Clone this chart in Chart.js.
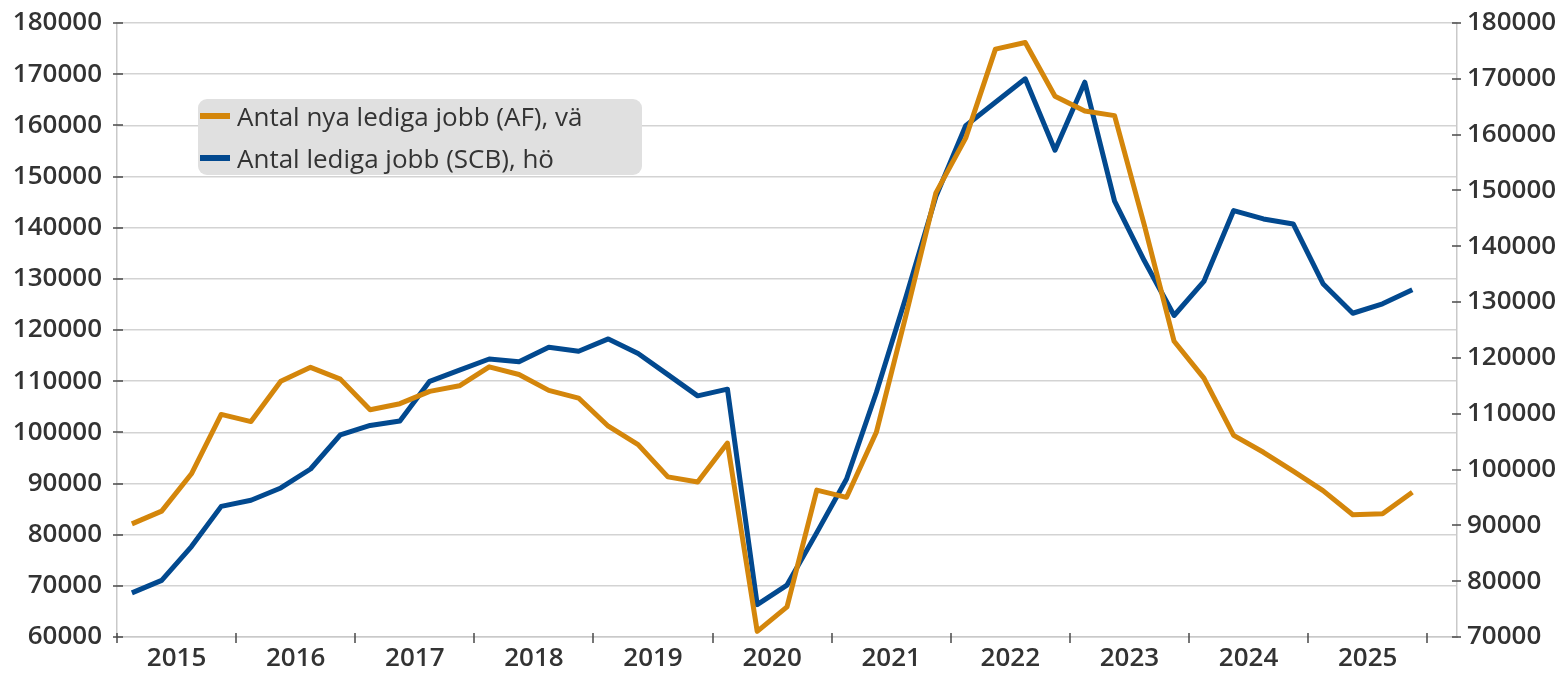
<!DOCTYPE html>
<html><head><meta charset="utf-8">
<script src="https://cdn.jsdelivr.net/npm/chart.js@4.4.1/dist/chart.umd.min.js"></script>
<style>
html,body{margin:0;padding:0;background:#fff;}
#wrap{position:relative;width:1562px;height:674px;}
#legend{position:absolute;left:198px;top:99px;width:444px;height:76px;background:#e0e0e0;border-radius:9px;font-family:'Open Sans',sans-serif;font-size:26px;font-weight:500;color:#333;}
.item{position:absolute;left:2px;height:36px;display:flex;align-items:center;white-space:nowrap;}
.sw{width:30px;height:6px;margin-right:7px;}
</style></head><body>
<div id="wrap"><canvas id="c" width="1562" height="674"></canvas><div id="legend"></div></div>
<script>
// Quarterly data 2015Q1 .. 2025Q4
const years = ['2015','2016','2017','2018','2019','2020','2021','2022','2023','2024','2025'];
const afValues = [82100,84600,91900,103500,102100,110000,112700,110400,104400,105600,108000,109100,
  112800,111300,108200,106700,101200,97600,91300,90300,97900,61100,65900,88700,
  87300,100000,123000,146800,157500,174900,176200,165700,162800,161900,140500,117800,
  110600,99400,96100,92400,88600,83900,84100,88300];
const scbValues = [77900,80150,86200,93400,94500,96700,100100,106200,107900,108700,115800,117800,
  119800,119300,121900,121200,123400,120800,117000,113200,114400,75800,79300,88700,
  98300,113800,131000,148900,161600,165800,170000,157200,169400,148100,137400,127600,
  133700,146400,144900,144000,133300,128000,129700,132200];
const seriesLabels = ['Antal nya lediga jobb (AF), vä','Antal lediga jobb (SCB), hö'];
const seriesColors = ['#D4860B','#02498F'];
const leftTicks = {min:60000, max:180000, step:10000};
const rightTicks = {min:70000, max:180000, step:10000};
const quartersPerYear = 4;
const totalSlots = years.length*quartersPerYear + 1;

const toPoints = arr => arr.map((v,i)=>({x:i+0.5, y:v}));
const FONT = {family:"'Open Sans', sans-serif", size:26, weight:'600'};
const TXT = '#333333';

const tickMarks = {
  id:'tickMarks',
  afterDraw(chart){
    const ctx=chart.ctx; const xs=chart.scales.x, yl=chart.scales.y, yr=chart.scales.y2;
    ctx.save(); ctx.strokeStyle='#4a4a4a'; ctx.lineWidth=1.5; ctx.beginPath();
    for(let k=0;k<=years.length;k++){
      const px=Math.round(xs.getPixelForValue(k*quartersPerYear));
      ctx.moveTo(px,xs.top-4); ctx.lineTo(px,xs.top+6);
    }
    yl.ticks.forEach(t=>{const py=Math.round(yl.getPixelForValue(t.value)); ctx.moveTo(yl.right-4,py); ctx.lineTo(yl.right+6,py);});
    yr.ticks.forEach(t=>{const py=Math.round(yr.getPixelForValue(t.value)); ctx.moveTo(yr.left-5,py); ctx.lineTo(yr.left+4,py);});
    ctx.stroke(); ctx.restore();
  }
};

function fixV(w){ return s=>{ s.width=w; s.paddingTop=0; s.paddingBottom=0; }; }

new Chart(document.getElementById('c'), {
  type:'line',
  data:{datasets:[
    {label:seriesLabels[0], data:toPoints(afValues), yAxisID:'y', borderColor:seriesColors[0], backgroundColor:seriesColors[0], borderWidth:5, pointRadius:0, tension:0, borderJoinStyle:'round', borderCapStyle:'butt'},
    {label:seriesLabels[1], data:toPoints(scbValues), yAxisID:'y2', borderColor:seriesColors[1], backgroundColor:seriesColors[1], borderWidth:5, pointRadius:0, tension:0, borderJoinStyle:'round', borderCapStyle:'butt'}
  ]},
  options:{
    responsive:false, animation:false, devicePixelRatio:1,
    layout:{padding:{top:23,left:0,right:0,bottom:0}},
    plugins:{legend:{display:false}, tooltip:{enabled:false}},
    scales:{
      x:{type:'linear', position:'bottom', min:0, max:totalSlots, offset:false,
        afterBuildTicks:s=>{s.ticks=years.map((y,k)=>({value:k*quartersPerYear+quartersPerYear/2}));},
        ticks:{autoSkip:false, maxRotation:0, padding:6, color:TXT, font:FONT,
          callback:v=>years[Math.round((v-quartersPerYear/2)/quartersPerYear)]},
        grid:{display:false, drawTicks:false},
        border:{display:true, color:'#c9c9c9', width:1.5},
        afterFit:s=>{s.height=37; s.paddingLeft=0; s.paddingRight=0;}
      },
      y:{type:'linear', position:'left', min:leftTicks.min, max:leftTicks.max,
        ticks:{stepSize:leftTicks.step, padding:15, color:TXT, font:FONT, callback:v=>String(v)},
        grid:{color:'#d3d3d3', lineWidth:1.5, drawTicks:false},
        border:{display:true, color:'#c9c9c9', width:1.5},
        afterFit:fixV(117)
      },
      y2:{type:'linear', position:'right', min:rightTicks.min, max:rightTicks.max,
        ticks:{stepSize:rightTicks.step, padding:10, color:TXT, font:FONT, callback:v=>String(v)},
        grid:{drawOnChartArea:false, drawTicks:false},
        border:{display:true, color:'#c9c9c9', width:1.5},
        afterFit:fixV(105)
      }
    }
  },
  plugins:[tickMarks]
});

const lg=document.getElementById('legend');
seriesLabels.forEach((lab,i)=>{
  const it=document.createElement('div'); it.className='item'; it.style.top=(17+42*i-18)+'px';
  const sw=document.createElement('span'); sw.className='sw'; sw.style.background=seriesColors[i];
  const tx=document.createElement('span'); tx.textContent=lab;
  it.appendChild(sw); it.appendChild(tx); lg.appendChild(it);
});
</script>
</body></html>
